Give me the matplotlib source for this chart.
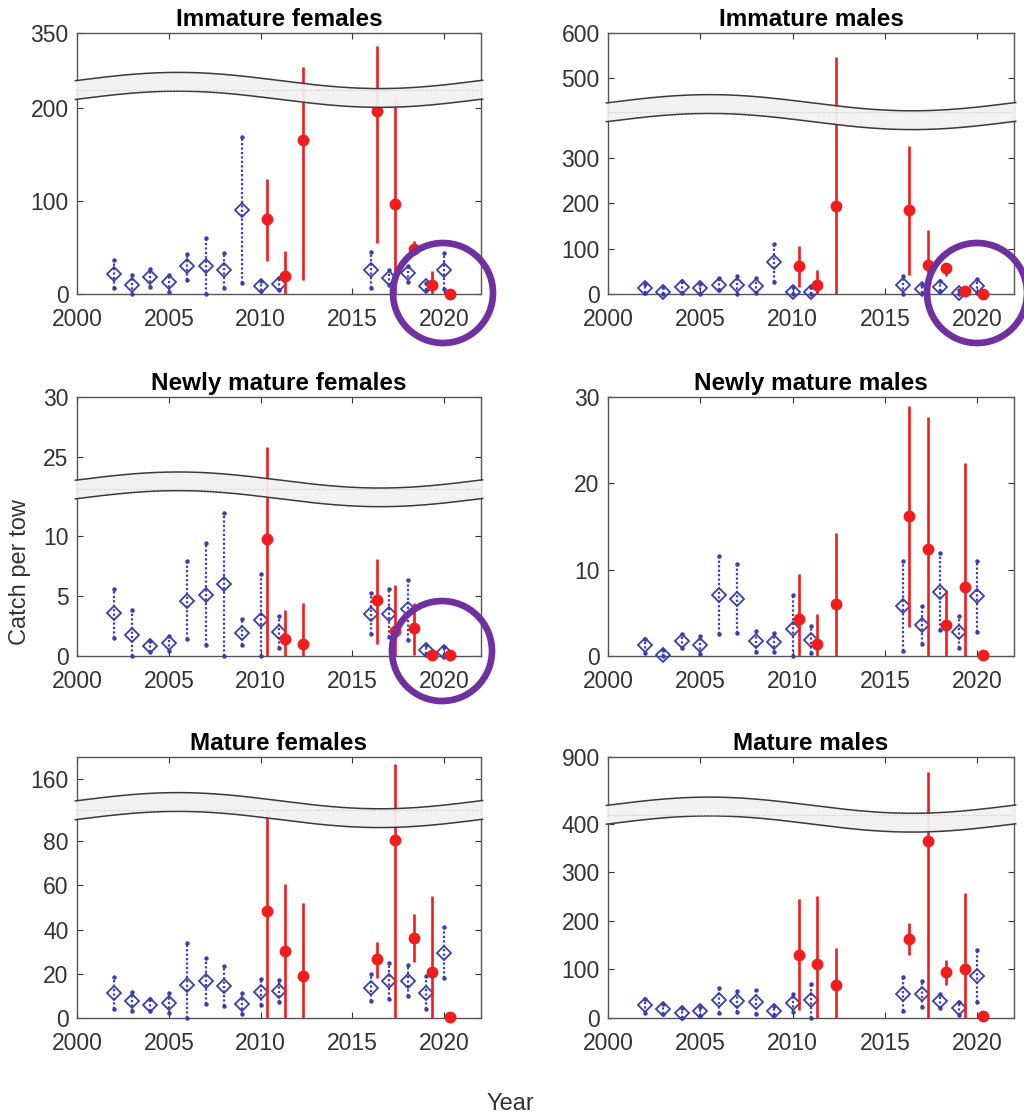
import numpy as np
import matplotlib.pyplot as plt
from matplotlib.patches import Ellipse

plt.rcParams['font.family'] = ['Liberation Sans', 'DejaVu Sans']

# survey (blue) and lab (red) years
survey_years = [2002, 2003, 2004, 2005, 2006, 2007, 2008, 2009, 2010, 2011,
                2016, 2017, 2018, 2019, 2020]
lab_years = [2010, 2011, 2012, 2016, 2017, 2018, 2019, 2020]

# Immature females
imf_svy = [21.9, 10, 18.3, 12.5, 29.7, 29.7, 25.4, 90, 9, 11, 25.4, 17.2, 22.6, 8.2, 25.4]
imf_svy_lo = [6.5, 0, 7.5, 2.5, 15.4, 0, 6, 11.8, 2.9, 4.7, 6, 10, 12.5, 4.7, 5.4]
imf_svy_hi = [36, 20.8, 27, 20.4, 43, 60, 44, 168.5, 13.6, 17, 45.5, 25.4, 29.7, 12, 44]
imf_lab = [80, 19.7, 165, 196.4, 97, 48.4, 9.3, 0]
imf_lab_lo = [35.8, 0, 15.4, 54.8, 0, 42.3, 0, 0]
imf_lab_hi = [123, 45.9, 313, 336, 211, 56.6, 25, 0]

# Immature males
imm_svy = [12.5, 3.7, 16, 12.5, 20.5, 19, 18.3, 69.6, 5, 4.4, 19.8, 11, 16, 2.2, 16.8]
imm_svy_lo = [2, 0, 2, 0, 9.5, 0, 2, 25.6, 0, 0, 0.7, 2, 6, 0, 2]
imm_svy_hi = [22.7, 15, 28, 22.7, 35, 40, 34.4, 110, 15, 15, 38.8, 20.5, 28, 9.5, 33]
imm_lab = [60.8, 19.8, 192.7, 185.3, 63, 56.4, 5.9, 0]
imm_lab_lo = [15.4, 0, 0, 42.5, 0, 38.8, 0, 0]
imm_lab_hi = [106, 52, 547, 326, 140, 63, 11, 0]

# Newly mature females
nmf_svy = [3.58, 1.75, 0.8, 1.08, 4.58, 5.06, 6.03, 1.94, 3.03, 2.0, 3.47, 3.47, 3.94, 0.53, 0.31]
nmf_svy_lo = [1.53, 0, 0.33, 0.42, 1.44, 0.94, 0, 0.9, 0, 0.7, 1.8, 1.58, 1.3, 0.2, 0.05]
nmf_svy_hi = [5.6, 3.86, 1.22, 1.64, 7.9, 9.4, 11.9, 3.1, 6.86, 3.33, 5.25, 5.56, 6.36, 0.9, 0.75]
nmf_lab = [9.78, 1.39, 1.03, 4.64, 2.08, 2.36, 0.05, 0.05]
nmf_lab_lo = [0, 0, 0, 1.03, 0, 0.05, 0.05, 0.05]
nmf_lab_hi = [25.8, 3.86, 4.42, 8.06, 5.94, 4.42, 0.05, 0.05]

# Newly mature males
nmm_svy = [1.24, 0.12, 1.74, 1.28, 7.04, 6.65, 1.74, 1.62, 3.13, 1.9, 5.8, 3.56, 7.43, 2.75, 6.92]
nmm_svy_lo = [0.39, 0, 0.97, 0.19, 2.51, 2.67, 0.46, 0.46, 0, 0.35, 0.58, 1.43, 2.98, 0.97, 2.79]
nmm_svy_hi = [1.93, 0.66, 2.6, 2.32, 11.6, 10.64, 2.9, 2.7, 7.04, 3.44, 11.0, 5.8, 11.95, 4.6, 11.0]
nmm_lab = [4.33, 1.35, 6.07, 16.2, 12.38, 3.56, 8.0, 0.15]
nmm_lab_lo = [0, 0, 0, 3.37, 0, 0, 0, 0.15]
nmm_lab_hi = [9.48, 4.9, 14.27, 29.0, 27.66, 7.62, 22.3, 0.15]

# Mature females
mf_svy = [11.3, 7.5, 5.7, 6.9, 15, 16.7, 14.3, 6.5, 11.7, 12.2, 13.6, 16.7, 16.7, 11.4, 29.5]
mf_svy_lo = [4.1, 3.2, 3.2, 2.4, 0, 6.2, 5.4, 2, 6, 7.2, 7.5, 8.7, 9.8, 4.2, 18]
mf_svy_hi = [18.5, 11.7, 8.4, 11.3, 33.9, 27.3, 23.3, 11.3, 17.6, 17, 19.7, 25, 23.8, 18.8, 41.1]
mf_lab = [48.6, 30.3, 19.1, 26.5, 80.6, 36.3, 20.8, 0.5]
mf_lab_lo = [0, 0, 0, 18.1, 0, 25.3, 0, 0.5]
mf_lab_hi = [117, 60.7, 52, 34.3, 167, 46.8, 55.1, 0.5]

# Mature males
mm_svy = [26, 18.6, 11, 13.7, 36.4, 34.4, 33.7, 14.4, 31.6, 36.4, 48.8, 48.8, 35.7, 21.3, 86.6]
mm_svy_lo = [11, 7.6, 0, 3.4, 10.3, 12.4, 8.9, 5.5, 12.4, 0, 13.7, 22.7, 20.6, 5.5, 33]
mm_svy_hi = [40, 29.6, 21.3, 22.7, 61.9, 55.7, 58.4, 24.7, 50.2, 70.8, 84.5, 75.6, 50.2, 33, 140.9]
mm_lab = [130.6, 110.7, 67.4, 162.9, 364.3, 94.8, 101.7, 4]
mm_lab_lo = [15.8, 0, 0, 129.2, 0, 68.7, 0, 4]
mm_lab_hi = [244, 250.9, 143, 194.5, 870, 120.3, 256.4, 4]

titles = ["Immature females", "Immature males", "Newly mature females",
          "Newly mature males", "Mature females", "Mature males"]
yticks = [[0, 100, 200, 350], [0, 100, 200, 300, 500, 600], [0, 5, 10, 25, 30],
          [0, 10, 20, 30], [0, 20, 40, 60, 80, 160], [0, 100, 200, 300, 400, 900]]
ytops = [350, 600, 30, 30, 170, 900]
# broken axis: value nodes -> compressed nodes (None = plain axis)
breaks = [([0, 214, 294, 350], [0, 214, 224, 280]),
          ([0, 395, 431, 600], [0, 395, 405, 574]),
          ([0, 13.5, 22.7, 30], [0, 13.5, 14.3, 21.6]),
          None,
          ([0, 92, 148, 170], [0, 92, 96, 118]),
          ([0, 412, 788, 900], [0, 412, 425, 537])]

svy_data = [(imf_svy, imf_svy_lo, imf_svy_hi), (imm_svy, imm_svy_lo, imm_svy_hi),
            (nmf_svy, nmf_svy_lo, nmf_svy_hi), (nmm_svy, nmm_svy_lo, nmm_svy_hi),
            (mf_svy, mf_svy_lo, mf_svy_hi), (mm_svy, mm_svy_lo, mm_svy_hi)]
lab_data = [(imf_lab, imf_lab_lo, imf_lab_hi), (imm_lab, imm_lab_lo, imm_lab_hi),
            (nmf_lab, nmf_lab_lo, nmf_lab_hi), (nmm_lab, nmm_lab_lo, nmm_lab_hi),
            (mf_lab, mf_lab_lo, mf_lab_hi), (mm_lab, mm_lab_lo, mm_lab_hi)]

BLUE = '#3a3fae'
RED = '#f21c1c'
GREY = '#333333'


def piecewise(vals, poss):
    vals = np.asarray(vals, float)
    poss = np.asarray(poss, float)

    def fwd(v):
        v = np.asarray(v, float)
        out = np.interp(v, vals, poss)
        out = np.where(v > vals[-1], poss[-1] + (v - vals[-1]), out)
        return np.where(v < vals[0], poss[0] + (v - vals[0]), out)

    def inv(p):
        p = np.asarray(p, float)
        out = np.interp(p, poss, vals)
        out = np.where(p > poss[-1], vals[-1] + (p - poss[-1]), out)
        return np.where(p < poss[0], vals[0] + (p - poss[0]), out)
    return fwd, inv


W, H = 1024, 1118
fig = plt.figure(figsize=(W / 100, H / 100), dpi=100)
col_x = [(77, 404), (608, 406)]
row_y = [(33, 261), (397, 259), (757, 261)]

for i in range(6):
    r, c = divmod(i, 2)
    x0, w = col_x[c]
    y0, h = row_y[r]
    ax = fig.add_axes([x0 / W, 1 - (y0 + h) / H, w / W, h / H])

    if breaks[i] is not None:
        fwd, inv = piecewise(*breaks[i])
        ax.set_yscale('function', functions=(fwd, inv))

    # survey: open diamonds with dotted intervals
    m, lo, hi = svy_data[i]
    ax.vlines(survey_years, lo, hi, colors=BLUE, linestyles=(0, (1, 1)), lw=1.6, zorder=3)
    ax.plot(survey_years, lo, 'o', color=BLUE, ms=2.2, zorder=3, clip_on=False)
    ax.plot(survey_years, hi, 'o', color=BLUE, ms=2.2, zorder=3, clip_on=False)
    ax.plot(survey_years, m, 'D', mfc='none', mec=BLUE, mew=1.3, ms=7, ls='none',
            zorder=3, clip_on=False)

    # lab: filled red circles with solid intervals
    m, lo, hi = lab_data[i]
    xr = np.array(lab_years) + 0.33
    ax.vlines(xr, lo, hi, colors=RED, lw=1.9, zorder=4)
    ax.plot(xr, m, 'o', color=RED, ms=7.5, ls='none', zorder=4, clip_on=False)

    ax.set_xlim(2000, 2022)
    ax.set_ylim(0, ytops[i])
    ax.set_xticks([2000, 2005, 2010, 2015, 2020])
    ax.set_yticks(yticks[i])
    ax.tick_params(direction='in', top=True, right=True, length=4, width=0.8,
                   color=GREY, labelcolor=GREY, labelsize=16.5)
    ax.tick_params(axis='x', pad=10)
    ax.tick_params(axis='y', pad=6)
    for s in ax.spines.values():
        s.set_color('#555555')
        s.set_linewidth(1.0)
    ax.set_title(titles[i], fontsize=17.5, fontweight='bold', pad=5)

    # wavy break band
    if breaks[i] is not None:
        vals, poss = breaks[i]
        cy = (poss[1] + poss[2]) / 2 / fwd(ytops[i])
        xs = np.linspace(-0.004, 1.004, 300)
        wave = 0.031 * np.sin(2 * np.pi * xs)
        top = cy + 0.036 + wave
        bot = cy - 0.036 + wave
        ax.fill_between(xs, bot, top, transform=ax.transAxes, color='#f2f2f2',
                        alpha=0.93, lw=0, zorder=5, clip_on=False)
        ax.plot(xs, top, color='#3a3a3a', lw=1.1, transform=ax.transAxes, zorder=6, clip_on=False)
        ax.plot(xs, bot, color='#3a3a3a', lw=1.1, transform=ax.transAxes, zorder=6, clip_on=False)
        ax.plot([0, 1], [cy, cy], color='#c8c8c8', lw=0.8, ls=':', transform=ax.transAxes,
                zorder=6)

fig.text(20 / W, 1 - 572 / H, 'Catch per tow', rotation=90, ha='center', va='center',
         fontsize=17, color=GREY)
fig.text(510 / W, 1 - 1104 / H, 'Year', ha='center', va='center', fontsize=17, color=GREY)

# highlight circles
for cx, cy in [(443, 293), (977, 293), (442, 651)]:
    fig.add_artist(Ellipse((cx / W, 1 - cy / H), 100 / W, 100 / H, transform=fig.transFigure,
                           fill=False, ec='#7030a0', lw=4.8, zorder=10))

fig.savefig('out.png', dpi=100)
